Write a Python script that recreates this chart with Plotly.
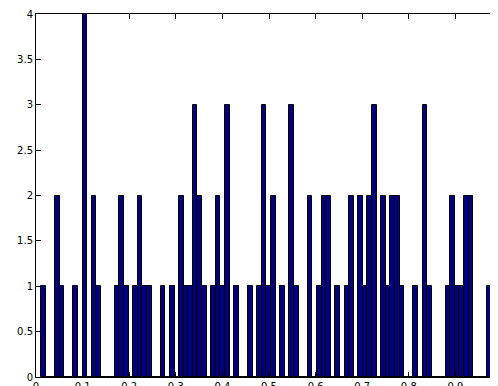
import numpy as np
import plotly.graph_objects as go

# Histogram counts (100 bins)
counts = [
    1, 0, 0, 2, 1, 0, 0, 1, 0, 4,
    0, 2, 1, 0, 0, 0, 1, 2, 1, 0,
    1, 2, 1, 1, 0, 0, 1, 0, 1, 0,
    2, 1, 1, 3, 2, 1, 0, 1, 2, 1,
    3, 0, 1, 0, 0, 1, 0, 1, 3, 1,
    2, 0, 1, 0, 3, 1, 0, 0, 2, 0,
    1, 2, 2, 0, 1, 0, 1, 2, 0, 2,
    1, 2, 3, 0, 2, 1, 2, 2, 1, 0,
    0, 1, 0, 3, 1, 0, 0, 0, 1, 2,
    1, 1, 2, 2, 0, 0, 0, 1, 1, 3,
]
bin_start = 0.0113
bin_width = 0.00986
x_ticks = [0, 0.1, 0.2, 0.3, 0.4, 0.5, 0.6, 0.7, 0.8, 0.9, 1.0]
x_tick_labels = ["0", "0.1", "0.2", "0.3", "0.4", "0.5", "0.6", "0.7", "0.8", "0.9", "1"]
y_ticks = [0, 0.5, 1, 1.5, 2, 2.5, 3, 3.5, 4]
y_tick_labels = ["0", "0.5", "1", "1.5", "2", "2.5", "3", "3.5", "4"]

centers = bin_start + (np.arange(len(counts)) + 0.5) * bin_width

fig = go.Figure(
    go.Bar(
        x=centers,
        y=counts,
        width=bin_width,
        marker=dict(color="#000080", line=dict(color="black", width=1)),
        hoverinfo="skip",
    )
)

# The page body has an 8px default margin, so the margins below compensate
fig.update_layout(
    width=498,
    height=386,
    autosize=False,
    margin=dict(l=28, r=4, t=6, b=17, pad=0, autoexpand=False),
    paper_bgcolor="white",
    plot_bgcolor="white",
    showlegend=False,
    bargap=0,
    font=dict(family="DejaVu Sans, Liberation Sans, Arial, sans-serif", size=10, color="black"),
)
fig.update_xaxes(
    range=[0, 1.0],
    automargin=False,
    tickvals=x_ticks,
    ticktext=x_tick_labels,
    ticks="inside",
    ticklen=5,
    tickcolor="black",
    ticklabelstandoff=0,
    showline=True,
    linecolor="black",
    linewidth=1,
    mirror="ticks",
    showgrid=False,
    zeroline=False,
)
fig.update_yaxes(
    range=[0, 4],
    automargin=False,
    tickvals=y_ticks,
    ticktext=y_tick_labels,
    ticks="inside",
    ticklen=5,
    tickcolor="black",
    showline=True,
    linecolor="black",
    linewidth=1,
    mirror="ticks",
    showgrid=False,
    zeroline=False,
)

fig.write_html("out.html")
